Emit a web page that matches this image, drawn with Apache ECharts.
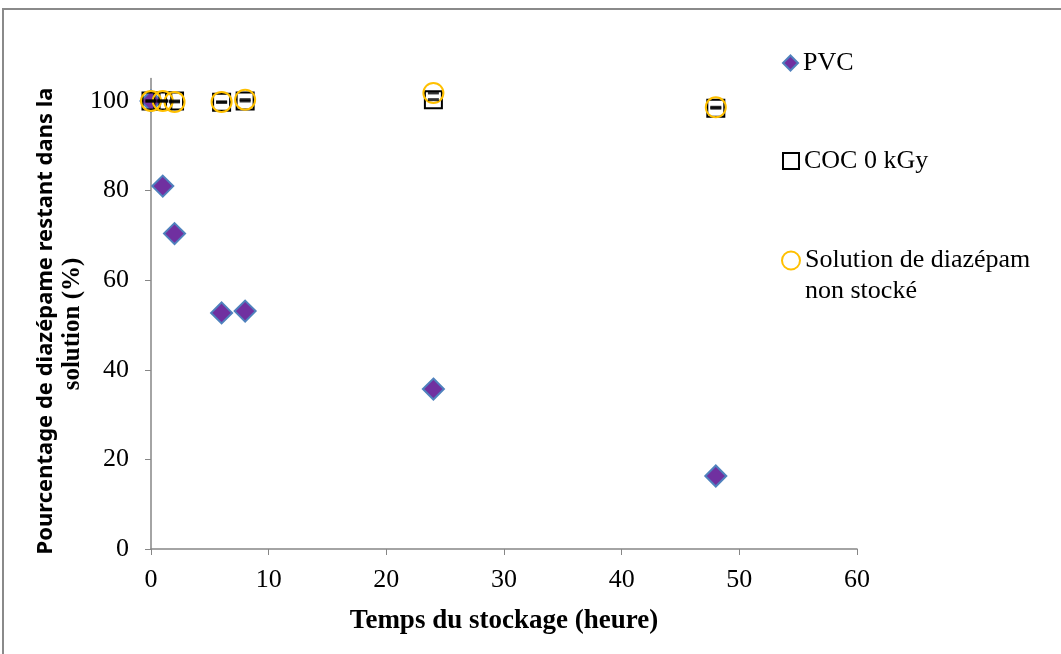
<!DOCTYPE html>
<html>
<head>
<meta charset="utf-8">
<script src="https://cdn.jsdelivr.net/npm/echarts@6/dist/echarts.min.js"></script>
<style>
html,body{margin:0;padding:0;background:#fff;}
#chart{width:1061px;height:654px;}
</style>
</head>
<body>
<div id="chart"></div>
<script>
// ---- data ----
var hours = [0, 1, 2, 6, 8, 24, 48];
var pvcValues = [100, 81.0, 70.4, 52.7, 53.1, 35.7, 16.3];
var cocValues = [100, 100, 100, 99.7, 100, 100.3, 98.4];
var solValues = [100, 100, 99.8, 99.8, 100.3, 101.8, 98.6];
var seriesNames = ['PVC', 'COC 0 kGy', 'Solution de diazépam non stocké'];
var xTicks = [0, 10, 20, 30, 40, 50, 60];
var yTicks = [0, 20, 40, 60, 80, 100];
var xTitle = 'Temps du stockage (heure)';
var yTitleLine1 = 'Pourcentage de diazépame restant dans la';
var yTitleLine2 = 'solution (%)';

function pairs(xs, ys) { return xs.map(function (x, i) { return [x, ys[i]]; }); }

var serif = 'Liberation Serif';
var chart = echarts.init(document.getElementById('chart'));
var legendText = { fontFamily: serif, fontSize: 26, color: '#000' };

chart.setOption({
  animation: false,
  backgroundColor: '#fff',
  grid: { left: 151, right: 204, top: 78.6, bottom: 105, containLabel: false },
  xAxis: {
    type: 'value', min: 0, max: 60, interval: 10,
    axisLine: { show: true, lineStyle: { color: '#868686', width: 1.5 } },
    axisTick: { show: true, length: 6, lineStyle: { color: '#868686' } },
    axisLabel: { fontFamily: serif, fontSize: 26, color: '#000', margin: 18,
      customValues: xTicks },
    splitLine: { show: false }
  },
  yAxis: {
    type: 'value', min: 0, max: 105, interval: 20,
    axisLine: { show: true, onZero: false, lineStyle: { color: '#868686', width: 1.5 } },
    axisTick: { show: true, length: 6, customValues: yTicks, lineStyle: { color: '#868686' } },
    axisLabel: { fontFamily: serif, fontSize: 26, color: '#000', margin: 22,
      customValues: yTicks },
    splitLine: { show: false }
  },
  legend: [
    { left: 777, top: 45, orient: 'vertical', itemWidth: 15, itemHeight: 15, itemGap: 5,
      textStyle: legendText, data: [{ name: seriesNames[0], icon: 'diamond' }] },
    { left: 777, top: 143, orient: 'vertical', itemWidth: 16, itemHeight: 16, itemGap: 5,
      textStyle: legendText, data: [{ name: seriesNames[1], icon: 'rect' }] },
    { left: 776, top: 209, orient: 'vertical', itemWidth: 18, itemHeight: 18, itemGap: 5,
      textStyle: Object.assign({ lineHeight: 31 }, legendText),
      formatter: function () { return '\nSolution de diazépam\nnon stocké'; },
      data: [{ name: seriesNames[2], icon: 'circle' }] }
  ],
  graphic: [
    { type: 'rect', shape: { x: 3, y: 9, width: 1200, height: 800 },
      style: { fill: 'none', stroke: '#8a8a8a', lineWidth: 2 }, silent: true },
    { type: 'text', x: 504, y: 621,
      style: { text: xTitle, font: 'bold 27px "Liberation Serif"', fill: '#000',
        align: 'center', verticalAlign: 'middle' } },
    { type: 'text', x: 46, y: 321, rotation: Math.PI / 2,
      style: { text: yTitleLine1, font: 'bold 22px "Noto Sans"', fill: '#000',
        align: 'center', verticalAlign: 'middle' } },
    { type: 'text', x: 73, y: 324, rotation: Math.PI / 2,
      style: { text: yTitleLine2, font: 'bold 25px "Liberation Serif"', fill: '#000',
        align: 'center', verticalAlign: 'middle' } }
  ],
  series: [
    { name: seriesNames[0], type: 'scatter', symbol: 'diamond', symbolSize: 21,
      itemStyle: { color: '#7030A0', borderColor: '#4F81BD', borderWidth: 2, opacity: 1 },
      data: pairs(hours, pvcValues), z: 2 },
    { name: seriesNames[1], type: 'scatter', symbol: 'rect', symbolSize: 17,
      itemStyle: { color: 'rgba(255,255,255,0)', borderColor: '#000', borderWidth: 2, opacity: 1 },
      data: pairs(hours, cocValues), z: 3 },
    { name: seriesNames[2], type: 'scatter', symbol: 'circle', symbolSize: 20,
      itemStyle: { color: 'rgba(255,255,255,0)', borderColor: '#FFC000', borderWidth: 2, opacity: 1 },
      data: pairs(hours, solValues), z: 4 },
    { name: 'cocBar', type: 'scatter', symbol: 'rect', symbolSize: [11, 3],
      itemStyle: { color: '#000' }, data: pairs(hours, cocValues), z: 5, silent: true },
    { name: 'solBar', type: 'scatter', symbol: 'rect', symbolSize: [11, 3],
      itemStyle: { color: '#000' }, data: pairs(hours, solValues), z: 5, silent: true }
  ]
});
</script>
</body>
</html>
